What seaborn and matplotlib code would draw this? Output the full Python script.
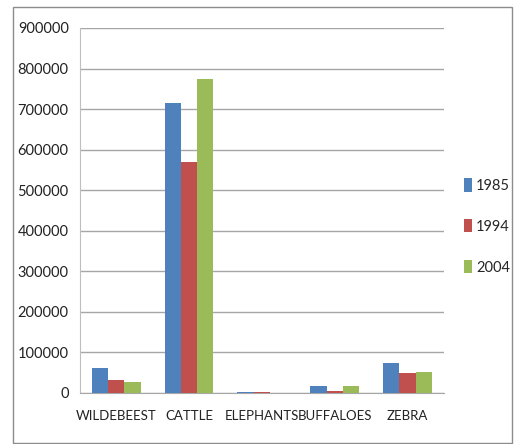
import pandas as pd
import seaborn as sns
import matplotlib.pyplot as plt
from matplotlib.patches import Rectangle

# animal counts
animals = ['WILDEBEEST', 'CATTLE', 'ELEPHANTS', 'BUFFALOES', 'ZEBRA']
years = ['1985', '1994', '2004']
counts_1985 = [62000, 716000, 2000, 18000, 75000]
counts_1994 = [31000, 570000, 1500, 5000, 49000]
counts_2004 = [28000, 773000, 1000, 18000, 52000]

df = pd.DataFrame({'animal': animals * 3,
                   'year': [y for y in years for _ in animals],
                   'count': counts_1985 + counts_1994 + counts_2004})

sns.set_style('white')
plt.rcParams['font.family'] = ['Lato', 'DejaVu Sans']

fig = plt.figure(figsize=(5.18, 4.44), dpi=100)
ax = fig.add_axes([0.154, 0.115, 0.703, 0.822])

palette = ['#4F81BD', '#C0504D', '#9BBB59']
sns.barplot(data=df, x='animal', y='count', hue='year', palette=palette,
            width=0.67, saturation=1, linewidth=0, ax=ax, zorder=3)

ax.set_ylim(0, 900000)
ax.set_yticks(range(0, 900001, 100000))
ax.set_xlim(-0.5, 4.5)
ax.set_xlabel('')
ax.set_ylabel('')
ax.grid(axis='y', color='#A6A6A6', linewidth=1, zorder=0)
for s in ['top', 'right']:
    ax.spines[s].set_visible(False)
ax.spines['left'].set_color('#BFBFBF')
ax.spines['bottom'].set_color('#A6A6A6')
ax.tick_params(axis='y', labelsize=10.5, colors='#222222', length=0, pad=8)
ax.tick_params(axis='x', labelsize=9.5, colors='#222222', length=0, pad=12)
# tick marks between categories
ax.set_xticks([i - 0.5 for i in range(6)], minor=True)
ax.tick_params(axis='x', which='minor', length=5, color='#A6A6A6')

leg = ax.legend(loc='center left', bbox_to_anchor=(1.04, 0.456), frameon=False,
                fontsize=10.5, handlelength=0.5, handleheight=1.0,
                handletextpad=0.3, labelspacing=1.8, borderaxespad=0)

fig.patches.append(Rectangle((0.025, 0.003), 0.963, 0.982, transform=fig.transFigure,
                             fill=False, edgecolor='#8C8C8C', linewidth=1))

fig.savefig('out.png', dpi=100)
